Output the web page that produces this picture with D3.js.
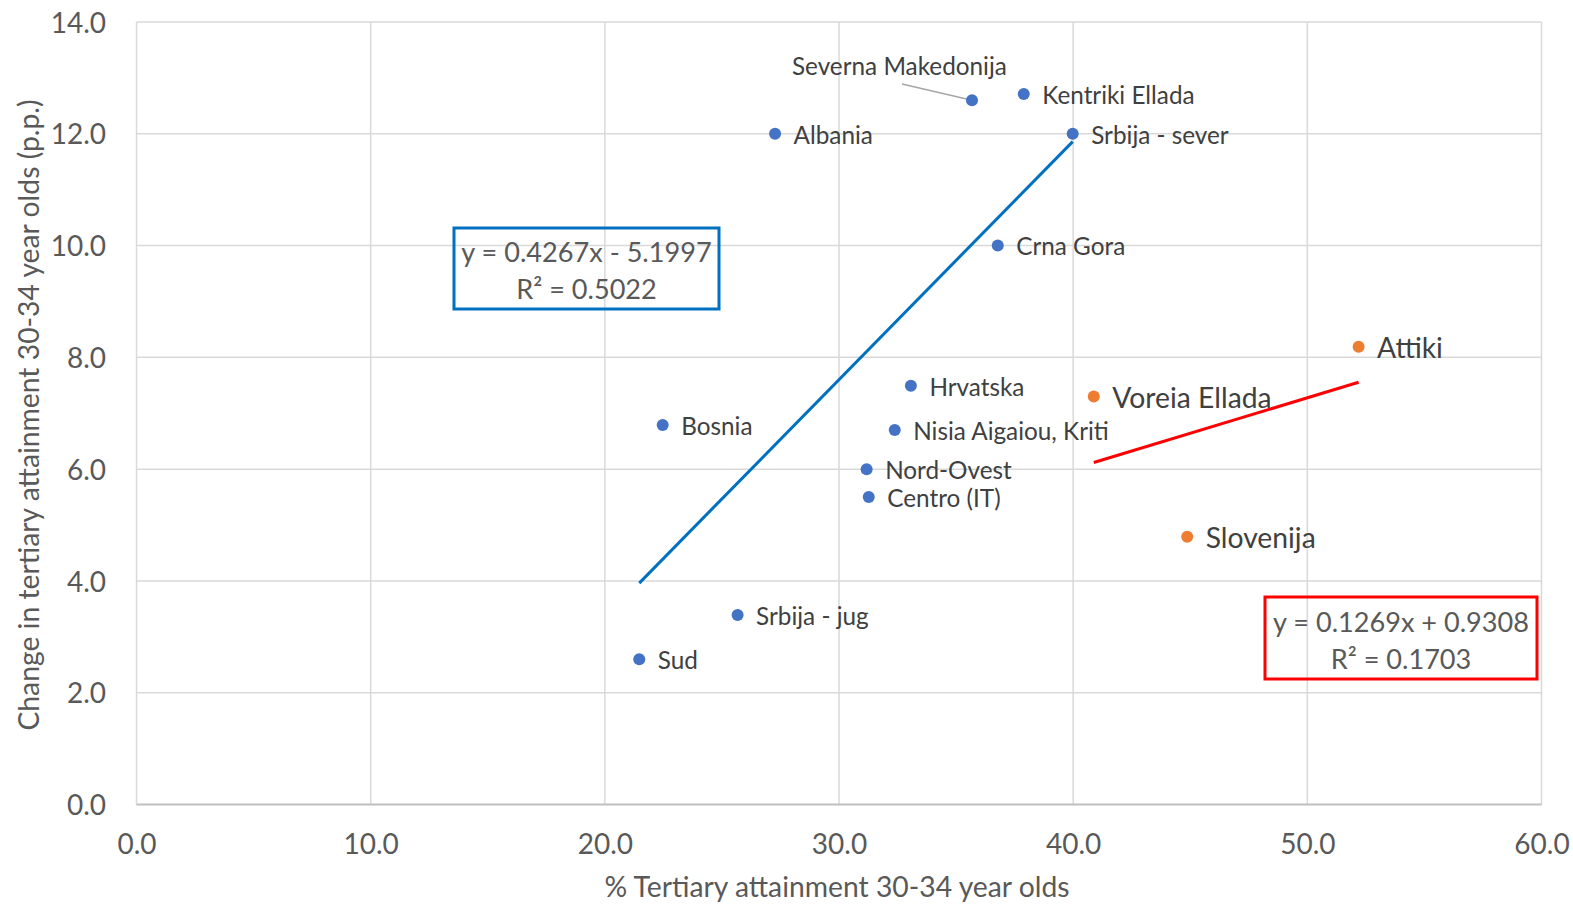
<!DOCTYPE html>
<html>
<head>
<meta charset="utf-8">
<script src="https://cdn.jsdelivr.net/npm/d3@7"></script>
<style>
  html, body { margin: 0; padding: 0; background: #fff; overflow: hidden; }
  svg { display: block; }
  svg text { font-family: Lato, "Open Sans", sans-serif; fill: #404040; }
</style>
</head>
<body>
<svg id="chart" width="1573" height="904"></svg>
<script>
// ---- Data ----
const blueNames = ["Severna Makedonija", "Kentriki Ellada", "Srbija - sever", "Albania", "Crna Gora", "Hrvatska", "Bosnia", "Nisia Aigaiou, Kriti", "Nord-Ovest", "Centro (IT)", "Srbija - jug", "Sud"];
const blueX = [35.68, 37.89, 39.98, 27.27, 36.78, 33.07, 22.47, 32.38, 31.18, 31.27, 25.67, 21.47];
const blueY = [12.60, 12.71, 12.00, 12.00, 10.00, 7.49, 6.79, 6.70, 6.00, 5.50, 3.39, 2.60];

const orangeNames = ["Attiki", "Voreia Ellada", "Slovenija"];
const orangeX = [52.19, 40.88, 44.87];
const orangeY = [8.19, 7.30, 4.79];

const blueTrend = { slope: 0.4267, intercept: -5.1997, r2: 0.5022 };
const orangeTrend = { slope: 0.1269, intercept: 0.9308, r2: 0.1703 };

const xTicks = [0, 10, 20, 30, 40, 50, 60];
const yTicks = [0, 2, 4, 6, 8, 10, 12, 14];

const xTitle = "% Tertiary attainment 30-34 year olds";
const yTitle = "Change in tertiary attainment 30-34 year olds (p.p.)";

// ---- Layout ----
const svg = d3.select("#chart");
const m = { left: 136.5, right: 1541.5, top: 22, bottom: 804.5 };
const x = d3.scaleLinear().domain([0, 60]).range([m.left, m.right]);
const y = d3.scaleLinear().domain([0, 14]).range([m.bottom, m.top]);
const FONT = 'Lato, "Open Sans", sans-serif';

// gridlines
const grid = svg.append("g");
grid.selectAll("line.v").data(xTicks).join("line")
  .attr("x1", d => x(d)).attr("x2", d => x(d))
  .attr("y1", m.top).attr("y2", m.bottom)
  .attr("stroke", "#d9d9d9").attr("stroke-width", 1.5);
grid.selectAll("line.h").data(yTicks).join("line")
  .attr("x1", m.left).attr("x2", m.right)
  .attr("y1", d => y(d)).attr("y2", d => y(d))
  .attr("stroke", d => d === 0 ? "#bfbfbf" : "#d9d9d9").attr("stroke-width", d => d === 0 ? 2 : 1.5);

// axes (labels only, via d3 axes)
const xAxis = d3.axisBottom(x).tickValues(xTicks).tickFormat(d3.format(".1f")).tickSize(0).tickPadding(30);
const yAxis = d3.axisLeft(y).tickValues(yTicks).tickFormat(d3.format(".1f")).tickSize(0).tickPadding(30.5);
const gx = svg.append("g").attr("transform", `translate(0,${m.bottom})`).call(xAxis);
const gy = svg.append("g").attr("transform", `translate(${m.left},0)`).call(yAxis);
[gx, gy].forEach(g => {
  g.select(".domain").remove();
  g.selectAll("text").style("font-size", "28px").style("fill", "#595959").style("font-family", FONT);
});
gy.selectAll("text").attr("dy", "0.36em");

// axis titles
svg.append("text").attr("x", 837).attr("y", 897)
  .attr("text-anchor", "middle").style("font-size", "28.3px").style("fill", "#595959").text(xTitle);
svg.append("text").attr("transform", `translate(39,${415}) rotate(-90)`)
  .attr("text-anchor", "middle").style("font-size", "28.3px").style("fill", "#595959").text(yTitle);

// trendlines
const blueTrendX = d3.extent(blueX);
const orangeTrendX = d3.extent(orangeX.slice(0, 2));
svg.append("line")
  .attr("x1", x(blueTrendX[0])).attr("y1", y(blueTrend.slope * blueTrendX[0] + blueTrend.intercept))
  .attr("x2", x(blueTrendX[1])).attr("y2", y(blueTrend.slope * blueTrendX[1] + blueTrend.intercept))
  .attr("stroke", "#0070c0").attr("stroke-width", 3);
svg.append("line")
  .attr("x1", x(orangeTrendX[0])).attr("y1", y(orangeTrend.slope * orangeTrendX[0] + orangeTrend.intercept))
  .attr("x2", x(orangeTrendX[1])).attr("y2", y(orangeTrend.slope * orangeTrendX[1] + orangeTrend.intercept))
  .attr("stroke", "#ff0000").attr("stroke-width", 3);

// leader line for Severna Makedonija
svg.append("line")
  .attr("x1", 902).attr("y1", 84)
  .attr("x2", x(blueX[0])).attr("y2", y(blueY[0]))
  .attr("stroke", "#a6a6a6").attr("stroke-width", 1.5);

// points
const blueData = blueNames.map((n, i) => ({ name: n, x: blueX[i], y: blueY[i] }));
const orangeData = orangeNames.map((n, i) => ({ name: n, x: orangeX[i], y: orangeY[i] }));

svg.append("g").selectAll("circle").data(blueData).join("circle")
  .attr("cx", d => x(d.x)).attr("cy", d => y(d.y)).attr("r", 6).attr("fill", "#4472c4");
svg.append("g").selectAll("circle").data(orangeData).join("circle")
  .attr("cx", d => x(d.x)).attr("cy", d => y(d.y)).attr("r", 6).attr("fill", "#ed7d31");

// labels
svg.append("g").selectAll("text").data(blueData).join("text")
  .attr("x", d => d.name === "Severna Makedonija" ? 792 : x(d.x) + 18.5)
  .attr("y", d => d.name === "Severna Makedonija" ? 66 : y(d.y) + 1)
  .attr("dy", "0.36em")
  .style("font-size", "24.3px")
  .text(d => d.name);
svg.append("g").selectAll("text").data(orangeData).join("text")
  .attr("x", d => x(d.x) + 18.5).attr("y", d => y(d.y) + 1)
  .attr("dy", "0.36em")
  .style("font-size", "28.3px")
  .text(d => d.name);

// equation boxes
function eqBox(x0, y0, w, h, color, t, l1, l2) {
  const g = svg.append("g");
  g.append("rect").attr("x", x0).attr("y", y0).attr("width", w).attr("height", h)
    .attr("fill", "none").attr("stroke", color).attr("stroke-width", 3);
  const sign = t.intercept < 0 ? "-" : "+";
  g.append("text").attr("x", x0 + w / 2).attr("y", l1).attr("dy", "0.36em")
    .attr("text-anchor", "middle").style("font-size", "27.1px").style("fill", "#595959")
    .text(`y = ${t.slope.toFixed(4)}x ${sign} ${Math.abs(t.intercept).toFixed(4)}`);
  g.append("text").attr("x", x0 + w / 2).attr("y", l2).attr("dy", "0.36em")
    .attr("text-anchor", "middle").style("font-size", "27.1px").style("fill", "#595959")
    .text(`R² = ${t.r2.toFixed(4)}`);
}
eqBox(454, 228, 265, 81, "#0070c0", blueTrend, 252, 289);
eqBox(1265, 597, 272, 82, "#ff0000", orangeTrend, 622, 659);
</script>
</body>
</html>
